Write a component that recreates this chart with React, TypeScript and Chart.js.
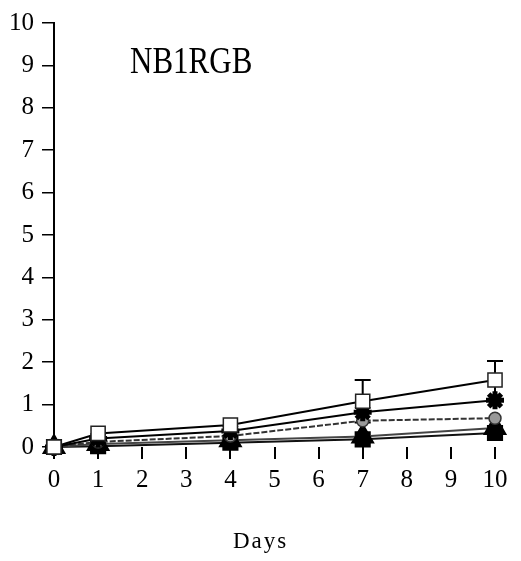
import React, { useEffect, useRef } from "react";
import { Chart, registerables } from "chart.js";

Chart.register(...registerables);

const days = [0, 1, 4, 7, 10];
const xTicks = [0, 1, 2, 3, 4, 5, 6, 7, 8, 9, 10];
const yTicks = [0, 1, 2, 3, 4, 5, 6, 7, 8, 9, 10];
const seriesOpenSquare = [0, 0.32, 0.52, 1.08, 1.58];
const errOpenSquare = [0, 0, 0, 0.5, 0.45];
const seriesStar = [0, 0.2, 0.38, 0.82, 1.1];
const seriesGray = [0, 0.12, 0.26, 0.62, 0.68];
const seriesTriangle = [0, 0.07, 0.16, 0.25, 0.45];
const seriesFilledSquare = [0, 0.02, 0.1, 0.18, 0.33];

const FONT = "'Liberation Serif', 'Times New Roman', serif";

const toPts = (vals: number[]) => vals.map((v, i) => ({ x: days[i], y: v }));

const errorBars = {
  id: "errorBars",
  beforeDatasetsDraw(chart: any) {
    const { ctx, scales } = chart;
    const xs = scales.x;
    const ys = scales.y;
    ctx.save();
    ctx.strokeStyle = "#000";
    ctx.lineWidth = 2;
    errOpenSquare.forEach((e, i) => {
      if (!e) return;
      const px = xs.getPixelForValue(days[i]);
      const top = ys.getPixelForValue(seriesOpenSquare[i] + e);
      const bot = ys.getPixelForValue(Math.max(0, seriesOpenSquare[i] - e));
      ctx.beginPath();
      ctx.moveTo(px, top);
      ctx.lineTo(px, bot);
      ctx.moveTo(px - 8, top);
      ctx.lineTo(px + 8, top);
      ctx.moveTo(px - 8, bot);
      ctx.lineTo(px + 8, bot);
      ctx.stroke();
    });
    ctx.restore();
  },
};

export default function App() {
  const ref = useRef<HTMLCanvasElement | null>(null);
  useEffect(() => {
    document.body.style.margin = "0";
    const chart = new Chart(ref.current as HTMLCanvasElement, {
      type: "line",
      data: {
        datasets: [
          {
            label: "A",
            data: toPts(seriesOpenSquare),
            clip: false,
            borderColor: "#000",
            borderWidth: 2,
            pointStyle: "rect",
            pointRadius: 10,
            pointBackgroundColor: "#fff",
            pointBorderColor: "#222",
            pointBorderWidth: 1.5,
          },
          {
            label: "B",
            data: toPts(seriesStar),
            clip: false,
            borderColor: "#000",
            borderWidth: 2,
            pointStyle: "star",
            pointRadius: 9,
            pointBackgroundColor: "#000",
            pointBorderColor: "#000",
            pointBorderWidth: 5,
          },
          {
            label: "C",
            data: toPts(seriesGray),
            clip: false,
            borderColor: "#333",
            borderWidth: 2,
            borderDash: [6, 2],
            pointStyle: "circle",
            pointRadius: 6,
            pointBackgroundColor: "#999",
            pointBorderColor: "#333",
            pointBorderWidth: 1.5,
          },
          {
            label: "D",
            data: toPts(seriesTriangle),
            clip: false,
            borderColor: "#444",
            borderWidth: 2,
            pointStyle: "triangle",
            pointRadius: 12,
            pointBackgroundColor: "#000",
            pointBorderColor: "#000",
          },
          {
            label: "E",
            data: toPts(seriesFilledSquare),
            clip: false,
            borderColor: "#111",
            borderWidth: 2,
            pointStyle: "rect",
            pointRadius: 10,
            pointBackgroundColor: "#000",
            pointBorderColor: "#000",
          },
        ],
      },
      options: {
        animation: false,
        responsive: false,
        layout: { padding: { top: 22, right: 26, left: 0, bottom: 0 } },
        plugins: { legend: { display: false }, tooltip: { enabled: false } },
        elements: { line: { tension: 0 } },
        scales: {
          x: {
            type: "linear",
            min: 0,
            max: 10,
            afterFit: (s: any) => {
              s.height = 114;
            },
            afterBuildTicks: (s: any) => {
              s.ticks = xTicks.map((v) => ({ value: v }));
            },
            ticks: {
              color: "#000",
              font: { family: FONT, size: 25 },
              padding: 6,
              maxRotation: 0,
            },
            grid: {
              display: true,
              drawOnChartArea: false,
              drawTicks: true,
              tickLength: 12,
              color: "#000",
              lineWidth: 2,
            },
            border: { display: false },
          },
          y: {
            type: "linear",
            min: 0,
            max: 10,
            afterFit: (s: any) => {
              s.width = 54;
            },
            afterBuildTicks: (s: any) => {
              s.ticks = yTicks.map((v) => ({ value: v }));
            },
            ticks: {
              color: "#000",
              font: { family: FONT, size: 25 },
              padding: 8,
            },
            grid: {
              display: true,
              drawOnChartArea: false,
              drawTicks: true,
              tickLength: 12,
              color: "#000",
              lineWidth: 1.5,
            },
            border: { display: true, color: "#000", width: 2 },
          },
        },
      },
      plugins: [errorBars],
    });
    return () => chart.destroy();
  }, []);
  return (
    <div style={{ position: "fixed", left: 0, top: 0, width: 521, height: 561, background: "#fff" }}>
      <canvas ref={ref} width={521} height={561} style={{ display: "block" }} />
      <div
        style={{
          position: "absolute",
          left: 130,
          top: 42,
          fontFamily: FONT,
          fontSize: 31,
          lineHeight: 1,
          color: "#000",
          transform: "scaleY(1.2)",
          transformOrigin: "left top",
          whiteSpace: "nowrap",
        }}
      >
        NB1RGB
      </div>
      <div
        style={{
          position: "absolute",
          left: 233,
          top: 529,
          fontFamily: FONT,
          fontSize: 23,
          lineHeight: 1,
          letterSpacing: 2,
          color: "#000",
          whiteSpace: "nowrap",
        }}
      >
        Days
      </div>
    </div>
  );
}
